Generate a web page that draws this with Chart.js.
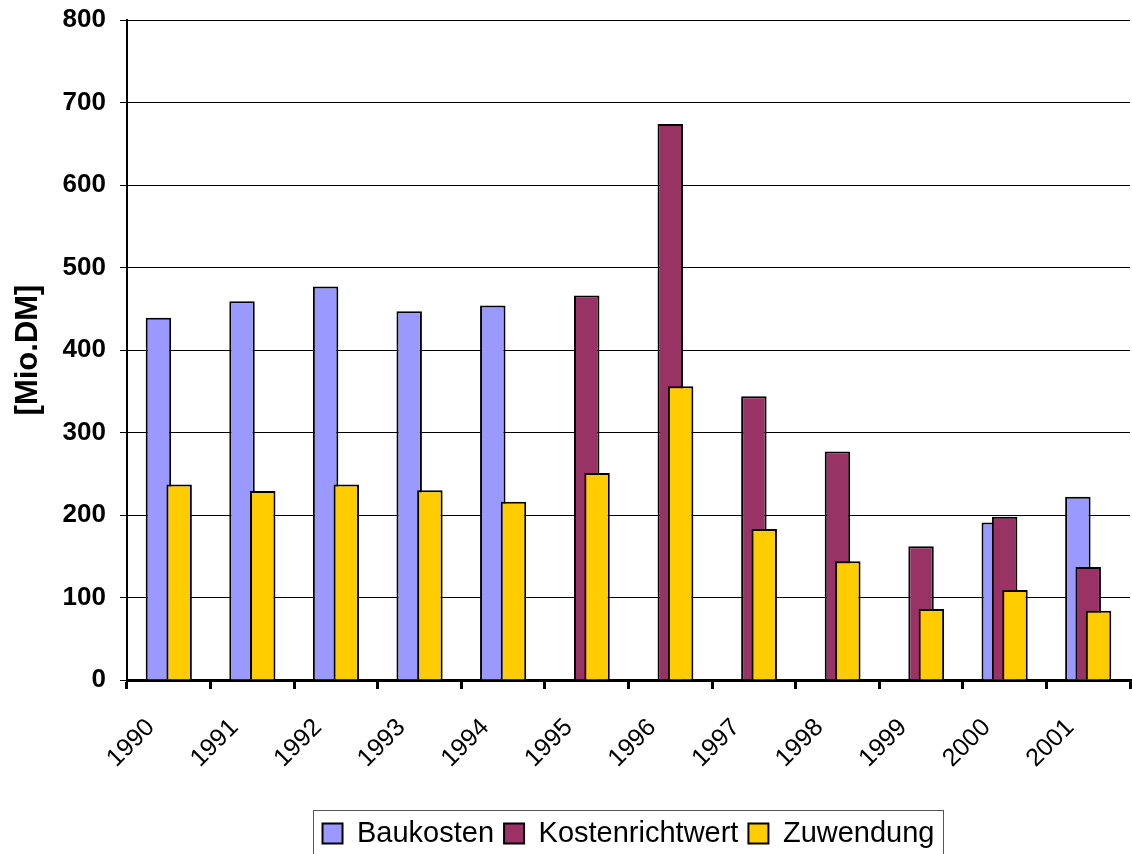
<!DOCTYPE html>
<html>
<head>
<meta charset="utf-8">
<script src="https://cdn.jsdelivr.net/npm/chart.js@4/dist/chart.umd.min.js"></script>
<style>
  body { margin: 0; background: #fff; }
  #chart { display: block; }
</style>
</head>
<body>
<canvas id="chart" width="1132" height="854"></canvas>
<script>
// Data
const years = ['1990', '1991', '1992', '1993', '1994', '1995', '1996', '1997', '1998', '1999', '2000', '2001'];
const baukosten = [439, 459, 477, 447, 454, null, null, null, null, null, 191, 222];
const kostenrichtwert = [null, null, null, null, null, 466, 674, 344, 277, 162, 198, 137];
const zuwendung = [237, 229, 237, 230, 216, 251, 356, 183, 144, 86, 109, 84];
const yTicks = [0, 100, 200, 300, 400, 500, 600, 700, 800];

Chart.defaults.font.family = 'Arial, "Liberation Sans", sans-serif';
Chart.defaults.color = '#000';

// Draw datasets in index order so the right bar lies on top (Excel style overlap)
const drawOrder = {
  id: 'drawOrder',
  beforeDatasetsDraw(chart) {
    chart.getSortedVisibleDatasetMetas().forEach(meta => chart._drawDataset(meta));
    return false;
  }
};

// Frame around the legend items
const legendFrame = {
  id: 'legendFrame',
  afterDraw(chart) {
    const legend = chart.legend;
    const boxes = legend.legendHitBoxes;
    if (!boxes || !boxes.length) return;
    const last = boxes[boxes.length - 1];
    const left = boxes[0].left - 10;
    const right = last.left + last.width + 8;
    const top = legend.top + 1;
    const ctx = chart.ctx;
    ctx.save();
    ctx.strokeStyle = '#555';
    ctx.lineWidth = 1;
    ctx.strokeRect(Math.round(left) + 0.5, Math.round(top) + 0.5, Math.round(right - left), chart.height);
    ctx.restore();
  }
};

const barOpts = {
  borderColor: '#000',
  borderWidth: 2,
  categoryPercentage: 0.3715,
  barPercentage: 2.46
};

new Chart(document.getElementById('chart'), {
  type: 'bar',
  data: {
    labels: years,
    datasets: [
      Object.assign({ label: 'Baukosten', data: baukosten, backgroundColor: '#9999FF' }, barOpts),
      Object.assign({ label: 'Kostenrichtwert', data: kostenrichtwert, backgroundColor: '#993366' }, barOpts),
      Object.assign({ label: 'Zuwendung', data: zuwendung, backgroundColor: '#FFCC00' }, barOpts)
    ]
  },
  options: {
    responsive: false,
    animation: false,
    layout: { padding: { top: 20, right: 2, bottom: -4, left: 0 } },
    plugins: {
      tooltip: { enabled: false },
      legend: {
        position: 'bottom',
        fullSize: false,
        labels: {
          boxWidth: 20,
          boxHeight: 20,
          padding: 10,
          font: { size: 29 },
          color: '#000'
        }
      }
    },
    scales: {
      x: {
        grid: {
          drawOnChartArea: false,
          drawTicks: true,
          tickLength: 9,
          offset: true,
          color: '#000',
          lineWidth: 3
        },
        border: { display: true, color: '#000', width: 3 },
        ticks: {
          minRotation: 45,
          maxRotation: 45,
          padding: 24,
          labelOffset: -18,
          font: { size: 25 },
          color: '#000'
        },
        afterFit(scale) {
          scale.height = 129;
          scale.paddingLeft = 0;
          scale.paddingRight = 0;
        }
      },
      y: {
        min: 0,
        max: 800,
        afterBuildTicks(scale) { scale.ticks = yTicks.map(v => ({ value: v })); },
        grid: { color: '#000', lineWidth: 1, tickLength: 7 },
        border: { display: true, color: '#000', width: 2 },
        ticks: {
          padding: 14,
          font: { size: 26, weight: 'bold' },
          color: '#000'
        },
        title: {
          display: true,
          text: '[Mio.DM]',
          font: { size: 31, weight: 'bold' },
          color: '#000',
          padding: { top: 10, bottom: 0 }
        },
        afterFit(scale) {
          scale.width = 127;
          scale.paddingTop = 0;
          scale.paddingBottom = 0;
        }
      }
    }
  },
  plugins: [drawOrder, legendFrame]
});
</script>
</body>
</html>
